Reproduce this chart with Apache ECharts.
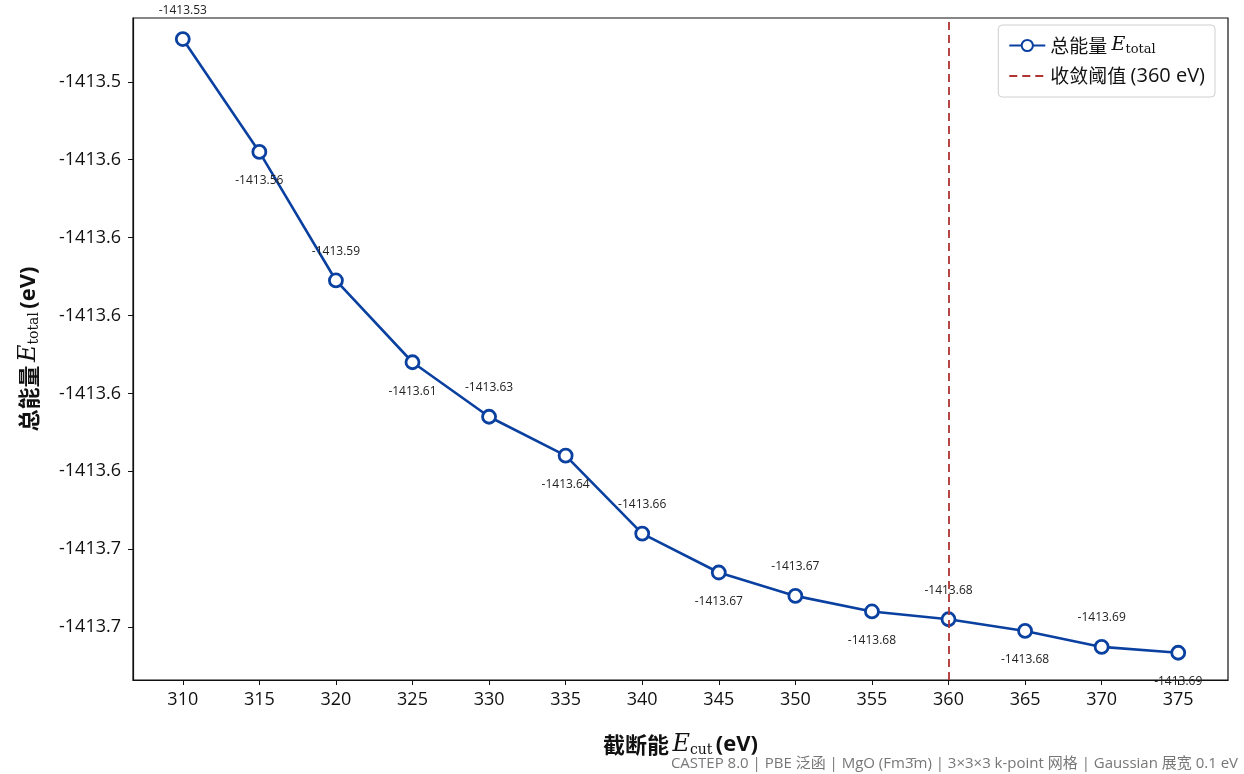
<!DOCTYPE html>
<html>
<head>
<meta charset="utf-8">
<script src="https://cdn.jsdelivr.net/npm/echarts@6/dist/echarts.min.js"></script>
<style>html,body{margin:0;padding:0;background:#fff}#chart{width:1244px;height:774px}</style>
</head>
<body>
<div id="chart"></div>
<script>
const cutoffEnergies = [310, 315, 320, 325, 330, 335, 340, 345, 350, 355, 360, 365, 370, 375];
const totalEnergies = [-1413.529, -1413.558, -1413.591, -1413.612, -1413.626, -1413.636, -1413.656, -1413.666, -1413.672, -1413.676, -1413.678, -1413.681, -1413.6851, -1413.6866];
const xTickValues = [310, 315, 320, 325, 330, 335, 340, 345, 350, 355, 360, 365, 370, 375];
const yTickValues = [-1413.54, -1413.56, -1413.58, -1413.60, -1413.62, -1413.64, -1413.66, -1413.68];
const thresholdCutoff = 360;
const seriesNames = ['总能量', '收敛阈值 (360 eV)'];
const footnote = 'CASTEP 8.0 | PBE 泛函 | MgO (Fm3̄m) | 3×3×3 k-point 网格 | Gaussian 展宽 0.1 eV';

const FONT = '"Open Sans", "Noto Sans CJK SC", sans-serif';
const blue = '#0a41a0';
const red = '#b03434';
const richName = {
  cn: {fontSize: 22, fontWeight: 'bold', fontFamily: '"Noto Sans CJK SC", sans-serif', color: '#111'},
  lat: {fontSize: 22, fontWeight: 'bold', fontFamily: '"Open Sans", sans-serif', color: '#111'},
  e: {fontSize: 24, fontStyle: 'italic', fontFamily: '"DejaVu Serif", "Liberation Serif", serif', color: '#111'},
  sub: {fontSize: 14, fontFamily: '"DejaVu Serif", "Liberation Serif", serif', color: '#111', padding: [11, 0, 0, 0]}
};

const chart = echarts.init(document.getElementById('chart'), null, {renderer: 'canvas'});
const option = {
  backgroundColor: '#fff',
  animation: false,
  grid: {left: 133, right: 16, top: 18, bottom: 94, show: true, borderColor: '#111', borderWidth: 1.2, backgroundColor: 'transparent'},
  legend: {
    right: 29, top: 25, orient: 'vertical', itemGap: 10, itemWidth: 36, itemHeight: 14,
    padding: [11, 10, 11, 10],
    borderColor: '#cfcfcf', borderWidth: 1, borderRadius: 4, backgroundColor: '#fff',
    textStyle: {fontSize: 19, color: '#111', fontFamily: FONT,
      rich: {
        cn: {fontSize: 19, fontFamily: '"Noto Sans CJK SC", sans-serif', color: '#111'},
        lat: {fontSize: 20, fontFamily: '"Open Sans", sans-serif', color: '#111'},
        e: {fontSize: 19, fontStyle: 'italic', fontFamily: '"DejaVu Serif", serif', color: '#111'},
        sub: {fontSize: 13, fontFamily: '"DejaVu Serif", serif', color: '#111', padding: [8, 0, 0, 0]}
      }},
    formatter: function (name) {
      if (name === seriesNames[0]) return '{cn|' + name + ' }{e|E}{sub|total}';
      return '{cn|收敛阈值 }{lat|(360 eV)}';
    },
    data: [seriesNames[0], {name: seriesNames[1], itemStyle: {opacity: 0}}]
  },
  xAxis: {
    type: 'value', min: 306.75, max: 378.25,
    name: '{cn|截断能} {e|E}{sub|cut} {lat|(eV)}', nameLocation: 'middle', nameGap: 52,
    nameTextStyle: {rich: richName},
    axisLine: {show: true, lineStyle: {color: '#111', width: 1.2}},
    axisTick: {show: true, length: 5, customValues: xTickValues, lineStyle: {color: '#111'}},
    axisLabel: {customValues: xTickValues, fontSize: 18, color: '#111', fontFamily: FONT, margin: 11},
    splitLine: {show: false}
  },
  yAxis: {
    type: 'value', min: -1413.6936, max: -1413.5236,
    name: '{cn|总能量} {e|E}{sub|total} {lat|(eV)}', nameLocation: 'middle', nameGap: 92, nameRotate: 90,
    nameTextStyle: {rich: richName},
    axisLine: {show: true, lineStyle: {color: '#111', width: 1.2}},
    axisTick: {show: true, length: 5, customValues: yTickValues, lineStyle: {color: '#111'}},
    axisLabel: {customValues: yTickValues, fontSize: 18, color: '#111', fontFamily: FONT, margin: 12,
      formatter: v => Number(v).toFixed(1)},
    splitLine: {show: false}
  },
  series: [
    {
      name: seriesNames[0], type: 'line', z: 3,
      symbol: 'circle', symbolSize: 13,
      itemStyle: {color: '#fff', borderColor: blue, borderWidth: 2.8},
      lineStyle: {color: blue, width: 2.6},
      label: {show: true, fontSize: 12, color: '#222', fontFamily: FONT, distance: 15,
        formatter: p => p.value[1].toFixed(2)},
      data: cutoffEnergies.map((x, i) => ({
        value: [x, totalEnergies[i]],
        label: {position: i % 2 === 0 ? 'top' : 'bottom'}
      }))
    },
    {
      name: seriesNames[1], type: 'line', z: 2, symbol: 'none',
      itemStyle: {color: red},
      lineStyle: {color: red, width: 1.8, type: [8, 5]},
      data: [],
      markLine: {
        silent: true, symbol: 'none', label: {show: false},
        lineStyle: {color: red, width: 1.8, type: [8, 5]},
        data: [{xAxis: thresholdCutoff}]
      }
    }
  ],
  graphic: [{
    type: 'text', right: 6, bottom: 3,
    style: {text: footnote, fontSize: 15, fill: '#777', fontFamily: FONT}
  }]
};
chart.setOption(option);
</script>
</body>
</html>
